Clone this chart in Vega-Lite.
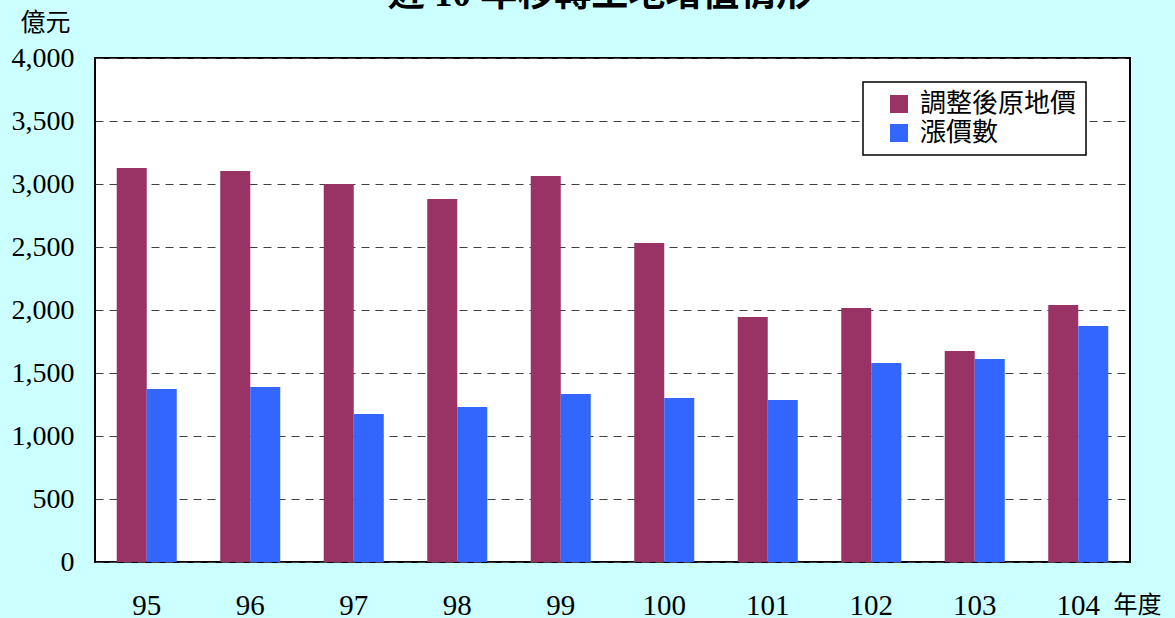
{
  "$schema": "https://vega.github.io/schema/vega-lite/v6.json",
  "width": 1035,
  "height": 504,
  "autosize": {"type": "none"},
  "padding": {"left": 95, "top": 58, "right": 45, "bottom": 56},
  "background": "#CCFFFF",
  "title": {
    "text": "近 10 年移轉土地增值情形",
    "anchor": "middle",
    "frame": "group",
    "offset": -41,
    "dx": -12,
    "baseline": "bottom",
    "fontSize": 37,
    "fontWeight": "bold",
    "font": "Liberation Serif, Noto Sans CJK TC",
    "color": "#000000"
  },
  "data": {
    "values": [
      {"year": "95", "series": "調整後原地價", "value": 3127},
      {"year": "95", "series": "漲價數", "value": 1373},
      {"year": "96", "series": "調整後原地價", "value": 3103},
      {"year": "96", "series": "漲價數", "value": 1389},
      {"year": "97", "series": "調整後原地價", "value": 3000},
      {"year": "97", "series": "漲價數", "value": 1175},
      {"year": "98", "series": "調整後原地價", "value": 2881},
      {"year": "98", "series": "漲價數", "value": 1230},
      {"year": "99", "series": "調整後原地價", "value": 3064},
      {"year": "99", "series": "漲價數", "value": 1333},
      {"year": "100", "series": "調整後原地價", "value": 2532},
      {"year": "100", "series": "漲價數", "value": 1302},
      {"year": "101", "series": "調整後原地價", "value": 1945},
      {"year": "101", "series": "漲價數", "value": 1286},
      {"year": "102", "series": "調整後原地價", "value": 2016},
      {"year": "102", "series": "漲價數", "value": 1579},
      {"year": "103", "series": "調整後原地價", "value": 1675},
      {"year": "103", "series": "漲價數", "value": 1611},
      {"year": "104", "series": "調整後原地價", "value": 2040},
      {"year": "104", "series": "漲價數", "value": 1873}
    ]
  },
  "mark": {"type": "bar"},
  "encoding": {
    "x": {
      "field": "year",
      "type": "ordinal",
      "sort": ["95","96","97","98","99","100","101","102","103","104"],
      "scale": {"paddingInner": 0.42, "paddingOuter": 0.21},
      "axis": {
        "title": "年度",
        "titleX": 1018,
        "titleY": 43,
        "titleAlign": "left",
        "titleBaseline": "middle",
        "titleFontSize": 24,
        "titleFontWeight": "normal",
        "titleFont": "Liberation Serif, Noto Sans CJK TC",
        "titleColor": "#000000",
        "labelAngle": 0,
        "labelFontSize": 29,
        "labelFont": "Liberation Serif",
        "labelColor": "#000000",
        "labelPadding": 43,
        "labelBaseline": "middle",
        "ticks": false,
        "domain": false,
        "grid": false
      }
    },
    "xOffset": {"field": "series", "type": "nominal", "sort": ["調整後原地價", "漲價數"]},
    "y": {
      "field": "value",
      "type": "quantitative",
      "scale": {"domain": [0, 4000], "nice": false},
      "axis": {
        "values": [0, 500, 1000, 1500, 2000, 2500, 3000, 3500, 4000],
        "format": ",d",
        "title": "億元",
        "titleAngle": 0,
        "titleX": -75,
        "titleY": -36,
        "titleAlign": "left",
        "titleBaseline": "middle",
        "titleFontSize": 25,
        "titleFontWeight": "normal",
        "titleFont": "Liberation Serif, Noto Sans CJK TC",
        "titleColor": "#000000",
        "labelFontSize": 28,
        "labelFont": "Liberation Serif",
        "labelColor": "#000000",
        "labelPadding": 21,
        "ticks": false,
        "domain": false,
        "grid": true,
        "gridColor": "#404040",
        "gridDash": [8, 6],
        "gridWidth": 1.2
      }
    },
    "color": {
      "field": "series",
      "type": "nominal",
      "sort": ["調整後原地價", "漲價數"],
      "scale": {"domain": ["調整後原地價", "漲價數"], "range": ["#993366", "#3366FF"]},
      "legend": {
        "title": null,
        "orient": "none",
        "legendX": 768,
        "legendY": 24,
        "fillColor": "#FFFFFF",
        "strokeColor": "#000000",
        "padding": 9,
        "symbolType": "square",
        "symbolSize": 324,
        "symbolStrokeWidth": 0,
        "labelFontSize": 26,
        "labelFont": "Liberation Serif, Noto Sans CJK TC",
        "labelColor": "#000000",
        "labelOffset": 8,
        "rowPadding": 3,
        "symbolOffset": 14,
        "labelLimit": 300
      }
    }
  },
  "config": {
    "view": {"fill": "#FFFFFF", "stroke": "#000000", "strokeWidth": 2},
    "legend": {"strokeWidth": 1.5}
  }
}
